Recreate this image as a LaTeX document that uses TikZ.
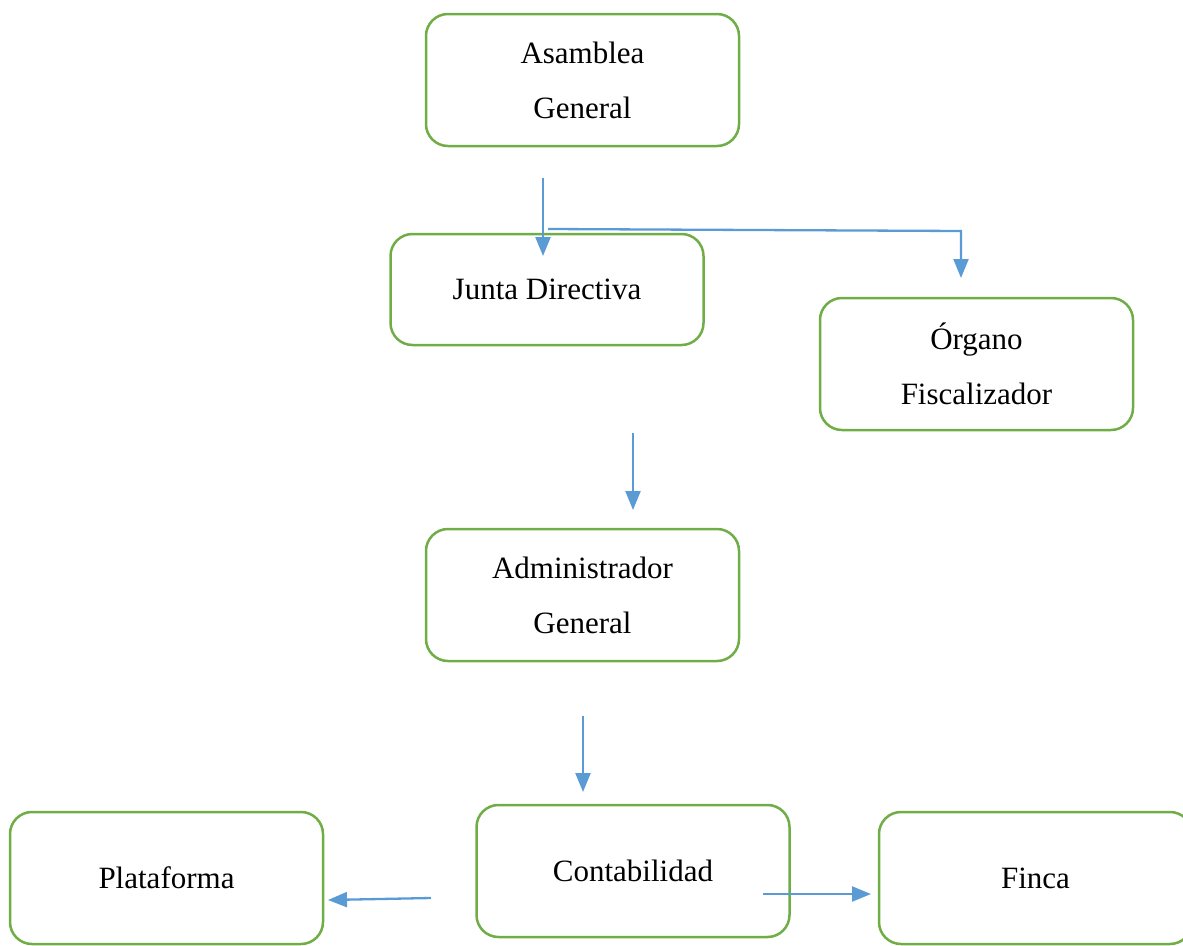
\documentclass[tikz,border=0pt]{standalone}
\usepackage{fontspec}
\setmainfont{Liberation Serif}
\usetikzlibrary{arrows.meta}
\definecolor{boxgreen}{HTML}{70AD47}
\definecolor{arrowblue}{HTML}{5B9BD5}
\tikzset{
  orgbox/.style={draw=boxgreen, line width=2.5pt, rounded corners=22pt,
    minimum width=313pt, minimum height=132pt, align=center,
    font=\fontsize{31}{55}\selectfont},
  orgarrow/.style={draw=arrowblue, line width=2.3pt,
    -{Triangle[width=15pt,length=19pt]}}
}
\begin{document}
\begin{tikzpicture}[x=1pt,y=-1pt]

\useasboundingbox (0,0) rectangle (1183,945);
  \node[orgbox] (asamblea) at (582.5,80) {Asamblea\\General};
  \node[orgbox, minimum height=111pt] (junta) at (547,289.5) {Junta Directiva};
  \node[orgbox] (organo) at (976.5,364) {Órgano\\Fiscalizador};
  \node[orgbox] (admin) at (582.5,595) {Administrador\\General};
  \node[orgbox] (conta) at (633,871) {Contabilidad};
  \node[orgbox] (plataforma) at (166.5,878) {Plataforma};
  \node[orgbox] (finca) at (1035.5,878) {Finca};
  \coordinate (a1) at (543,178);
  \coordinate (a2) at (543,256);
  \coordinate (b1) at (548,229);
  \coordinate (b2) at (961,231);
  \coordinate (b3) at (961,278);
  \coordinate (c1) at (633,433);
  \coordinate (c2) at (633,510);
  \coordinate (d1) at (583,716);
  \coordinate (d2) at (583,792);
  \coordinate (e1) at (431,898);
  \coordinate (e2) at (328,900);
  \coordinate (f1) at (763,894);
  \coordinate (f2) at (871,894);
  \draw[orgarrow] (a1) -- (a2);
  \draw[orgarrow] (b1) -- (b2) -- (b3);
  \draw[orgarrow] (c1) -- (c2);
  \draw[orgarrow] (d1) -- (d2);
  \draw[orgarrow] (e1) -- (e2);
  \draw[orgarrow] (f1) -- (f2);
 \end{tikzpicture}
\end{document}
